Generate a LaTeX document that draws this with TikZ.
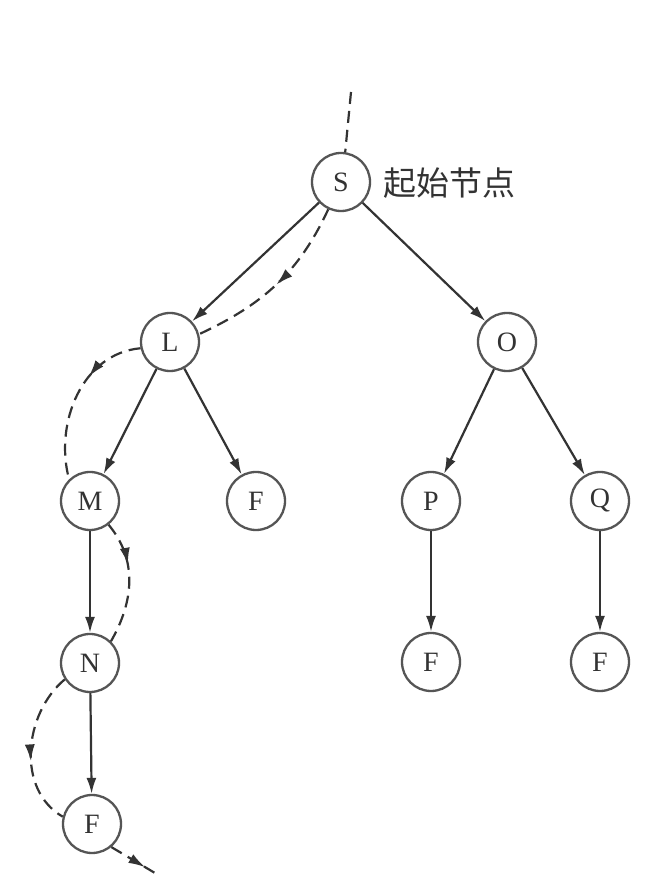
\documentclass[tikz,border=0pt]{standalone}
\usepackage{fontspec}
\setmainfont{Liberation Serif}
\newfontfamily\cjk{Noto Sans CJK SC}
\usetikzlibrary{arrows.meta,decorations.markings}
\definecolor{linecol}{HTML}{333333}
\definecolor{circcol}{HTML}{555555}
\definecolor{txtcol}{HTML}{333333}
\tikzset{
  treenode/.style={circle,draw=circcol,line width=2.3pt,minimum size=58pt,inner sep=0pt,
    text=txtcol,font=\fontsize{28}{30}\selectfont},
  treeedge/.style={draw=linecol,line width=2.2pt,-{Latex[length=16pt,width=10pt]}},
  trail/.style={draw=linecol,line width=2.2pt,dash pattern=on 12pt off 7pt},
  midarrow/.style={postaction={decorate},decoration={markings,
    mark=at position #1 with {\arrow{Latex[length=17pt,width=10pt]}}}}
}
\begin{document}
\begin{tikzpicture}[x=1pt,y=1pt]
\useasboundingbox[fill=white] (0,0) rectangle (652,891);
\node[treenode] (S) at (341,709) {S};
\node[treenode] (L) at (170,549) {L};
\node[treenode] (O) at (507,549) {O};
\node[treenode] (M) at (90,390) {M};
\node[treenode] (F1) at (256,390) {F};
\node[treenode] (P) at (431,390) {P};
\node[treenode] (Q) at (600,390) {Q};
\node[treenode] (N) at (90,228) {N};
\node[treenode] (F2) at (431,229) {F};
\node[treenode] (F3) at (600,229) {F};
\node[treenode] (F4) at (92,67) {F};
\node[anchor=west,text=txtcol,font=\cjk\fontsize{33}{35}\selectfont] (lab) at (380,708) {起始节点};
\coordinate (top) at (351,799);
\coordinate (endp) at (160,15);
% tree edges
\path[treeedge] (S) -- (L);
\path[treeedge] (S) -- (O);
\path[treeedge] (L) -- (M);
\path[treeedge] (L) -- (F1);
\path[treeedge] (O) -- (P);
\path[treeedge] (O) -- (Q);
\path[treeedge] (M) -- (N);
\path[treeedge] (N) -- (F4);
\path[treeedge] (P) -- (F2);
\path[treeedge] (Q) -- (F3);
% search trail
\draw[trail] (top) -- (S.82);
\draw[trail,midarrow=0.5] (S.245) to[out=245,in=25] (L.15);
\draw[trail,midarrow=0.36] (L.192) to[out=185,in=105] (M.134);
\draw[trail,midarrow=0.36] (M.-52) to[out=-50,in=60] (N.46);
\draw[trail,midarrow=0.58] (N.213) to[out=220,in=150] (F4.166);
\draw[trail,midarrow=0.7] (F4.-50) -- (endp);
\end{tikzpicture}
\end{document}
